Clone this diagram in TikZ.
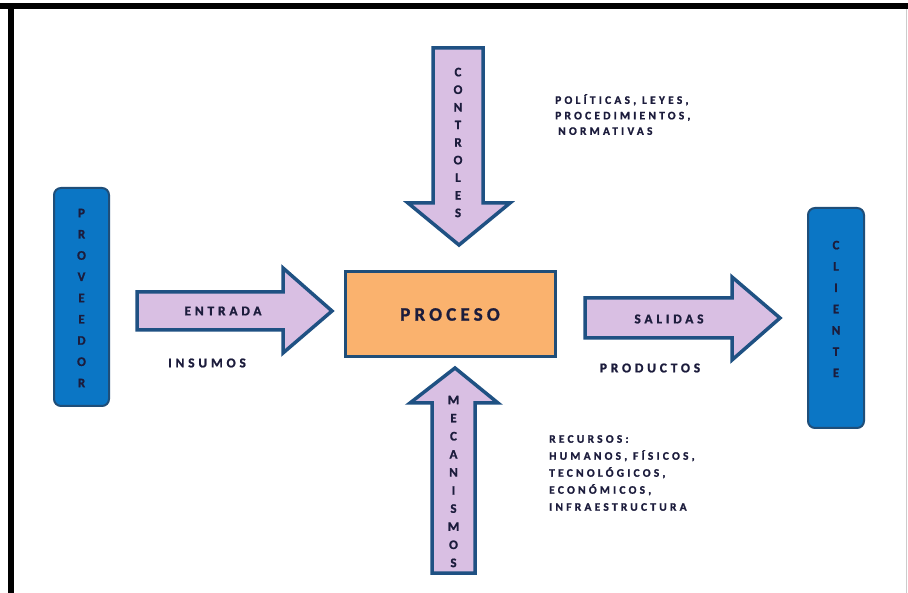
\documentclass[tikz,border=0pt]{standalone}
\usepackage{fontspec}
\newfontfamily\lbl[LetterSpace=28,UprightFont={* Bold},FakeBold=1.2]{Carlito}
\newfontfamily\vlbl[UprightFont={* Bold},FakeBold=1.2]{Carlito}
\definecolor{boxblue}{HTML}{0B76C5}
\definecolor{boxedge}{HTML}{1F4E79}
\definecolor{lav}{HTML}{D9BFE3}
\definecolor{arredge}{HTML}{1F5183}
\definecolor{orng}{HTML}{FAB26E}
\definecolor{ink}{HTML}{1C1C3C}
\tikzset{
  actor/.style={draw=boxedge, line width=2pt, fill=boxblue, rounded corners=7pt},
  bigarrow/.style={draw=arredge, line width=3.5pt, fill=lav, line join=miter},
  vtext/.style={align=center, text=ink, font=\vlbl\fontsize{13}{#1}\selectfont, inner sep=0pt},
  albl/.style={text=ink, font=\lbl\fontsize{13.5}{15}\selectfont, inner sep=0pt},
  side/.style={text=ink, align=left, font=\lbl\fontsize{11.5}{#1}\selectfont, inner sep=0pt}
}
\begin{document}
\begin{tikzpicture}[x=1pt,y=-1pt]
\useasboundingbox (0,0) rectangle (908,593);
\fill[white] (0,0) rectangle (908,593);
% frame
\fill[black] (0,3) rectangle (908,9);
\fill[black] (8,3) rectangle (14,593);
\draw[gray!40, line width=1pt] (906,9) -- (906,593);
% actors
\draw[actor] (54,188) rectangle (109,406);
\node[vtext=21.25] (prov) at (81.5,298) {P\\R\\O\\V\\E\\E\\D\\O\\R};
\draw[actor] (808,208) rectangle (864,428);
\node[vtext=21.3] (cli) at (836,309) {C\\L\\I\\E\\N\\T\\E};
% process
\node[draw=boxedge, line width=3pt, fill=orng, minimum width=210pt, minimum height=85pt,
      text=ink, font=\lbl\fontsize{19}{21}\selectfont\addfontfeature{LetterSpace=22}] (proc) at (450,314.5) {PROCESO};
% arrows
\draw[bigarrow] (137,292) -- (283,292) -- (283,268) -- (332,311) -- (283,353) -- (283,330) -- (137,330) -- cycle;
\node[albl] (ent) at (223,311) {ENTRADA};
\draw[bigarrow] (585,298) -- (732,298) -- (732,277) -- (780,318) -- (732,360) -- (732,338) -- (585,338) -- cycle;
\node[albl] (sal) at (669,319) {SALIDAS};
\draw[bigarrow] (433,48) -- (483,48) -- (483,203) -- (510,203) -- (459,245) -- (408,203) -- (433,203) -- cycle;
\node[vtext=17.6] (ctrl) at (458,142.5) {C\\O\\N\\T\\R\\O\\L\\E\\S};
\draw[bigarrow] (455,368) -- (498,403) -- (475,403) -- (475,573) -- (432,573) -- (432,403) -- (410,403) -- cycle;
\node[vtext=18.1] (mec) at (453.5,481.5) {M\\E\\C\\A\\N\\I\\S\\M\\O\\S};
% labels
\node[albl] (ins) at (207,363) {INSUMOS};
\node[albl] (prod) at (650,368) {PRODUCTOS};
\node[side=15.5, anchor=north west] (pol) at (555,94) {POLÍTICAS, LEYES,\\PROCEDIMIENTOS,\\\hspace*{3pt}NORMATIVAS};
\node[side=17, anchor=north west] (rec) at (549,435) {RECURSOS:\\HUMANOS, FÍSICOS,\\TECNOLÓGICOS,\\ECONÓMICOS,\\INFRAESTRUCTURA};
\end{tikzpicture}
\end{document}
